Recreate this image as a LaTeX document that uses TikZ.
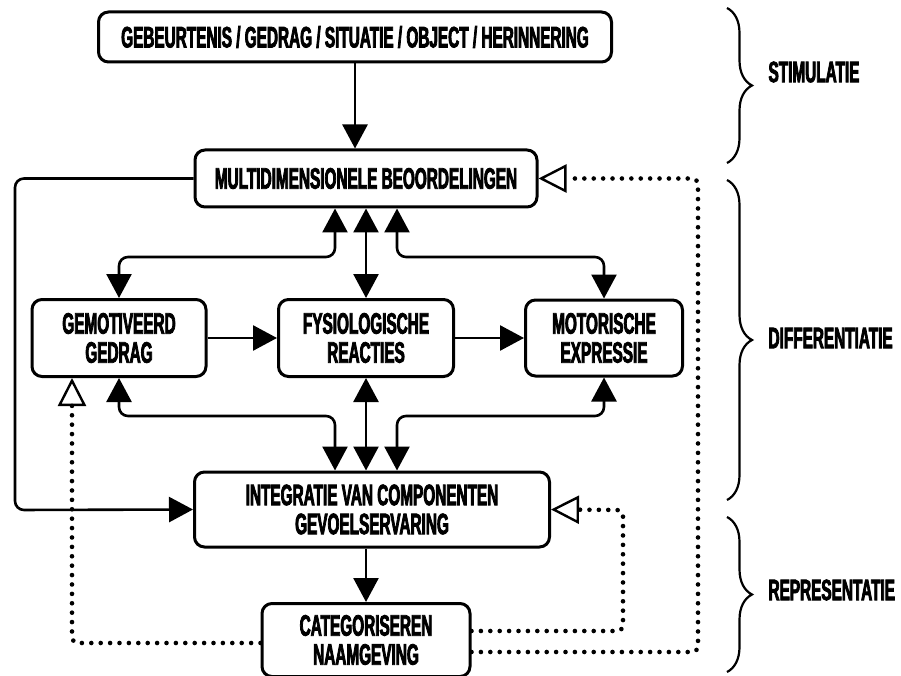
\documentclass[tikz,border=0pt]{standalone}
\usepackage{fontspec}
\newfontfamily\condfont{Liberation Sans}[FakeStretch=0.52,FakeBold=2.6]
\usepackage{tikz}
\usetikzlibrary{arrows.meta,decorations.pathreplacing}

\begin{document}
\begin{tikzpicture}[x=1pt,y=-1pt,
  font=\condfont\bfseries\fontsize{29.5}{29}\selectfont,
  box/.style={draw,line width=3pt,rounded corners=10pt,align=center,inner sep=0pt},
  arr/.style={line width=2.6pt,rounded corners=9pt,-{Triangle[width=25pt,length=24pt]}},
  darr/.style={line width=2.6pt,rounded corners=9pt,{Triangle[width=25pt,length=24pt]}-{Triangle[width=25pt,length=24pt]}},
  dotline/.style={line width=4.6pt,line cap=round,dash pattern=on 0pt off 9.4pt,rounded corners=6pt,
    -{Triangle[open,width=28pt,length=28pt,line width=2.4pt,line cap=butt]}},
  brc/.style={line width=2.2pt,decorate,decoration={brace,amplitude=25pt}},
  phase/.style={anchor=west}]
\useasboundingbox (0,0) rectangle (901,676);

% boxes
\node (top) at (355,37)    [box,minimum width=513pt,minimum height=50pt] {GEBEURTENIS / GEDRAG / SITUATIE / OBJECT / HERINNERING};
\node (mb)  at (366,178.5) [box,minimum width=342pt,minimum height=57pt] {MULTIDIMENSIONELE BEOORDELINGEN};
\node (gm)  at (119,338)   [box,minimum width=174pt,minimum height=77pt] {GEMOTIVEERD\\GEDRAG};
\node (fy)  at (366,338)   [box,minimum width=175pt,minimum height=77pt] {FYSIOLOGISCHE\\REACTIES};
\node (mo)  at (604,338)   [box,minimum width=157pt,minimum height=76pt] {MOTORISCHE\\EXPRESSIE};
\node (int) at (372,509.5) [box,minimum width=355pt,minimum height=75pt] {INTEGRATIE VAN COMPONENTEN\\GEVOELSERVARING};
\node (cat) at (366,640)   [box,minimum width=208pt,minimum height=73pt] {CATEGORISEREN\\NAAMGEVING};

% connectors
\draw[arr]  (top.south -| 355,0) -- (mb.north -| 355,0);
\draw[arr]  (mb.west) -- (15,178.5) -- (15,510) -- (int.west);
\draw[darr] (mb.south -| 335,0) -- (335,257) -| (gm.north);
\draw[darr] (mb.south -| fy.north) -- (fy.north);
\draw[darr] (mb.south -| 397,0) -- (397,257) -| (mo.north);
\draw[arr]  (gm) -- (fy);
\draw[arr]  (fy) -- (mo);
\draw[darr] (gm.south) |- (335,416) -- (int.north -| 335,0);
\draw[darr] (fy.south) -- (int.north -| fy.south);
\draw[darr] (mo.south) |- (397,416) -- (int.north -| 397,0);
\draw[arr]  (int.south -| cat.north) -- (cat.north);

% feedback
\draw[dotline] (cat.west |- 0,643) -- (72,643) -- (gm.south -| 72,0);
\draw[dotline] (cat.east |- 0,631) -- (623,631) -- (623,510) -- (int.east);
\draw[dotline] (cat.east |- 0,652) -- (698,652) -- (698,178.5) -- (mb.east);

% phases
\draw[brc] (727,8)   -- (727,163);
\draw[brc] (727,180) -- (727,500);
\draw[brc] (727,517) -- (727,672);
\node (s1) at (765,72)  [phase] {STIMULATIE};
\node (s2) at (765,338) [phase] {DIFFERENTIATIE};
\node (s3) at (765,590) [phase] {REPRESENTATIE};
\end{tikzpicture}
\end{document}
